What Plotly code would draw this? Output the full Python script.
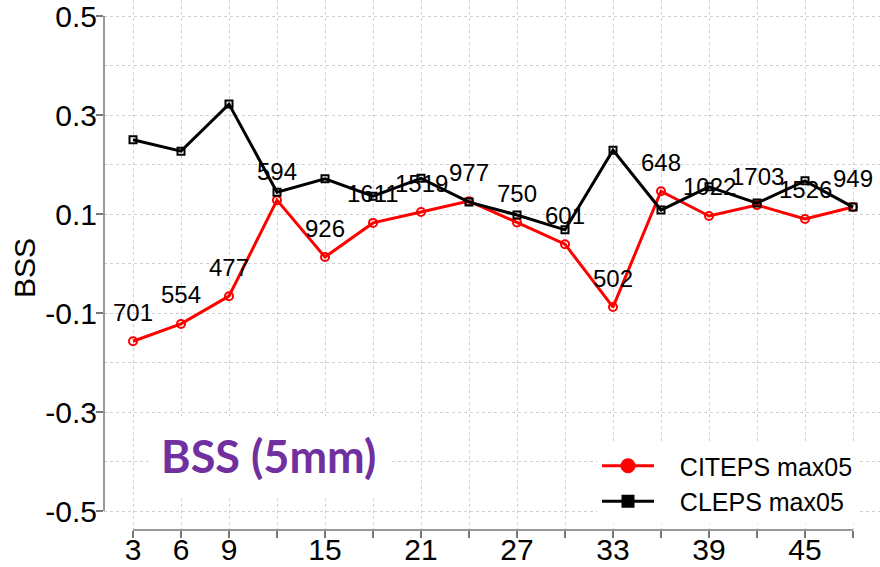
import plotly.graph_objects as go

# ---- data ----
lead_hours = [3, 6, 9, 12, 15, 18, 21, 24, 27, 30, 33, 36, 39, 42, 45, 48]
tick_labels = ["3", "6", "9", "", "15", "", "21", "", "27", "", "33", "", "39", "", "45", ""]
citeps_bss = [-0.157, -0.122, -0.066, 0.128, 0.013, 0.082, 0.104, 0.126,
              0.083, 0.039, -0.088, 0.146, 0.096, 0.118, 0.090, 0.114]
cleps_bss = [0.250, 0.227, 0.322, 0.144, 0.171, 0.136, 0.172, 0.124,
             0.098, 0.068, 0.229, 0.108, 0.155, 0.122, 0.167, 0.114]
sample_counts = ["701", "554", "477", "594", "926", "1611", "1519", "977",
                 "750", "601", "502", "648", "1022", "1703", "1526", "949"]
y_tick_vals = [-0.5, -0.3, -0.1, 0.1, 0.3, 0.5]
y_tick_text = ["-0.5", "-0.3", "-0.1", "0.1", "0.3", "0.5"]

FONT = "Liberation Sans, Arial, sans-serif"

fig = go.Figure()

# data traces
fig.add_trace(go.Scatter(
    x=lead_hours, y=citeps_bss, mode="lines+markers", showlegend=False,
    line=dict(color="#ff0000", width=3),
    marker=dict(symbol="circle-open", size=8, color="#ff0000", line=dict(width=2, color="#ff0000")),
))
fig.add_trace(go.Scatter(
    x=lead_hours, y=cleps_bss, mode="lines+markers", showlegend=False,
    line=dict(color="#000000", width=3),
    marker=dict(symbol="square-open", size=7, color="#000000", line=dict(width=2, color="#000000")),
))
# legend entries
NB = "&nbsp;" * 3
fig.add_trace(go.Scatter(
    x=[None], y=[None], mode="lines+markers", name=NB + "CITEPS max05",
    line=dict(color="#ff0000", width=3),
    marker=dict(symbol="circle", size=15, color="#ff0000"),
))
fig.add_trace(go.Scatter(
    x=[None], y=[None], mode="lines+markers", name=NB + "CLEPS max05",
    line=dict(color="#000000", width=3),
    marker=dict(symbol="square", size=13, color="#000000"),
))

# sample count labels
for xv, yv, txt in zip(lead_hours, citeps_bss, sample_counts):
    fig.add_annotation(x=xv, y=yv, text=txt, showarrow=False, yshift=29,
                       font=dict(family=FONT, size=24, color="#000000"))

# y-axis title
fig.add_annotation(xref="paper", yref="paper", x=(24 - 104) / 776, y=(530 - 268) / 530,
                   xanchor="center", yanchor="middle",
                   text="BSS", textangle=-90, showarrow=False,
                   font=dict(family=FONT, size=30, color="#000000"))

# inset title
fig.add_annotation(xref="paper", yref="paper", x=(268 - 104) / 776, y=(530 - 456) / 530,
                   xanchor="center", yanchor="middle",
                   text="<b>BSS (5mm)</b>", showarrow=False, bgcolor="white",
                   borderpad=12,
                   font=dict(family="Lato, Open Sans, sans-serif", size=45, color="#7030a0"))

# axis lines and zero line
fig.add_shape(type="line", xref="x", yref="paper", x0=lead_hours[0], x1=lead_hours[-1], y0=0, y1=0,
              line=dict(color="#777777", width=1.5))
fig.add_shape(type="line", xref="paper", yref="y", x0=0, x1=0, y0=y_tick_vals[0], y1=y_tick_vals[-1],
              line=dict(color="#777777", width=1.5))
fig.add_shape(type="line", xref="paper", yref="y", x0=0, x1=1, y0=0, y1=0, layer="between",
              line=dict(color="#555555", width=1, dash="dot"))

fig.update_layout(
    width=880, height=567,
    margin=dict(l=104, r=0, t=0, b=37, pad=0, autoexpand=False),
    plot_bgcolor="white", paper_bgcolor="white",
    font=dict(family=FONT, color="#000000"),
    xaxis=dict(
        automargin=False,
        range=[3 - 29 / 16, 48 + 27 / 16],
        tickvals=lead_hours, ticktext=tick_labels,
        ticks="outside", ticklen=7, tickwidth=1.5, tickcolor="#777777",
        ticklabelstandoff=-14, ticklabeloverflow="allow",
        showgrid=True, gridcolor="#cfcfcf", gridwidth=1, griddash="dot",
        showline=False, zeroline=False,
        tickfont=dict(family=FONT, size=30, color="#000000"),
    ),
    yaxis=dict(
        automargin=False,
        range=[0.5 - 514 / 495, 0.5 + 16 / 495],
        tickvals=y_tick_vals, ticktext=y_tick_text,
        ticks="outside", ticklen=7, tickwidth=1.5, tickcolor="#777777",
        ticklabelstandoff=-7, ticklabeloverflow="allow",
        showgrid=False, showline=False, zeroline=False,
        minor=dict(tick0=0, dtick=0.1, showgrid=True, gridcolor="#cfcfcf",
                   gridwidth=1, griddash="dot", ticks=""),
        tickfont=dict(family=FONT, size=30, color="#000000"),
    ),
    legend=dict(
        x=(597 - 104) / 776, y=(530 - 443) / 530, xanchor="left", yanchor="top",
        bgcolor="white", borderwidth=0,
        font=dict(family=FONT, size=25, color="#000000"),
        itemwidth=52, tracegroupgap=0,
    ),
)

fig.write_html("out.html", config={"displayModeBar": False},
               post_script="document.body.style.margin='0';")
